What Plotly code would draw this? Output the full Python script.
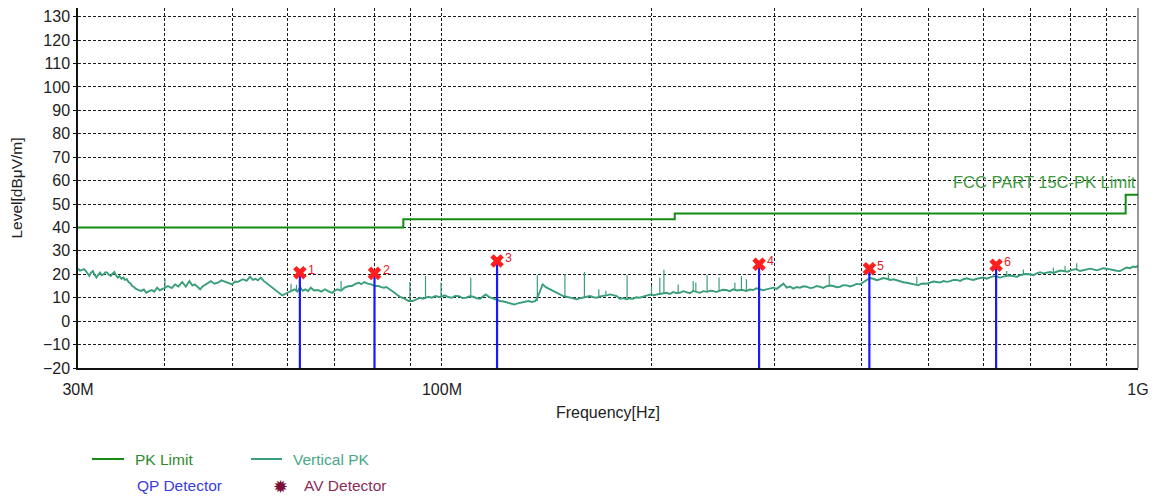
import numpy as np
import plotly.graph_objects as go

# ---------------- data ----------------
limit_freq = [30, 88, 216, 960, 1000]          # MHz
limit_level = [40, 43.5, 46, 54, 54]           # dBuV/m

vertical_pk = [
(30.0,22.4),(30.2,21.6),(30.43,21.9),(30.6,22.2),(30.79,21.4),(31.0,20.2),(31.15,19.3),(31.3,20.6),(31.52,21.4),(31.7,19.8),
(31.89,18.6),(32.1,19.9),(32.27,20.7),(32.45,19.6),(32.65,20.0),(32.85,20.9),(33.04,20.7),(33.2,19.9),(33.43,19.3),(33.6,20.2),
(33.83,21.0),(34.0,19.7),(34.23,18.6),(34.4,19.2),(34.63,18.1),(34.85,18.6),(35.05,17.6),(35.25,17.9),(35.46,16.7),(35.7,16.1),
(35.88,15.0),(36.1,14.6),(36.31,13.9),(36.6,13.4),(36.96,12.9),(37.3,13.5),(37.62,12.1),(37.95,12.8),(38.29,13.3),(38.6,12.6),
(38.98,14.3),(39.3,13.2),(39.68,13.6),(40.0,14.2),(40.39,15.0),(40.9,14.1),(41.36,15.7),(41.8,14.8),(42.35,16.7),(42.86,14.7),
(43.37,17.1),(43.8,15.2),(44.15,15.7),(44.5,14.6),(44.94,13.6),(45.3,14.8),(45.74,15.7),(46.1,16.3),(46.56,17.1),(47.1,16.0),
(47.67,16.4),(48.2,17.4),(48.8,16.7),(49.4,16.2),(49.97,15.7),(50.4,16.9),(50.86,16.7),(51.3,17.3),(51.78,17.9),(52.4,17.2),
(53.01,19.0),(53.5,17.6),(53.96,18.1),(54.4,17.4),(54.93,18.6),(55.4,17.3),(55.91,16.4),(56.4,15.4),(56.9,14.3),(57.4,13.8),
(57.92,12.9),(58.4,12.0),(58.96,11.0),(59.5,11.6),(60.0,12.1),(60.7,12.8),(61.43,13.6),(62.0,12.6),(62.55,14.5),(63.1,13.0),
(63.67,13.6),(64.2,12.8),(64.8,14.3),(65.5,13.1),(66.35,13.3),(67.1,12.6),(67.93,13.6),(68.7,12.7),(69.54,12.1),(70.1,13.0),
(70.78,13.6),(71.6,13.0),(72.47,14.3),(73.3,14.9),(74.2,15.0),(75.1,15.9),(75.97,16.4),(76.6,15.8),(77.32,16.7),(78.2,16.0),
(79.17,15.7),(80.1,15.0),(81.06,15.0),(81.8,14.5),(82.5,14.3),(83.2,14.6),(83.98,13.6),(84.7,12.8),(85.48,12.1),(86.2,11.3),
(87.0,10.4),(87.8,10.0),(88.58,9.3),(89.6,8.6),(90.7,8.6),(91.5,9.1),(92.3,9.3),(93.1,10.0),(93.97,9.6),(94.8,9.9),
(95.6,10.4),(96.7,10.0),(97.9,10.7),(99.3,10.2),(100.9,11.0),(102.1,10.3),(103.3,10.0),(104.5,10.8),(105.8,10.7),(107.0,9.9),
(108.3,10.0),(109.6,10.6),(110.9,10.4),(112.2,9.8),(113.5,9.6),(114.5,10.5),(115.6,11.4),(117.0,10.2),(118.4,9.6),(119.8,9.2),
(121.2,8.6),(122.6,8.4),(124.0,7.9),(125.5,7.5),(127.0,7.1),(128.5,7.6),(130.0,7.9),(131.5,8.4),(133.1,8.6),(134.7,8.2),
(136.3,8.6),(137.8,11.5),(139.5,15.7),(141.0,14.5),(142.8,13.6),(144.5,12.8),(146.2,12.1),(147.8,11.2),(149.4,10.7),(151.1,10.4),
(152.8,10.0),(154.5,9.6),(156.2,9.3),(157.9,9.8),(159.6,10.0),(161.4,10.4),(163.2,10.7),(165.0,10.2),(166.9,10.0),(168.7,10.6),
(170.6,10.7),(172.5,11.0),(174.4,11.4),(176.3,10.9),(178.3,10.7),(180.1,9.6),(182.3,9.8),(184.1,9.3),(186.1,9.7),(188.1,9.6),
(190.2,10.2),(192.3,10.0),(194.4,10.5),(196.6,10.7),(198.3,11.2),(200.0,11.4),(201.7,11.0),(203.4,11.4),(206.8,11.8),(210.2,12.1),
(212.5,11.6),(214.9,12.4),(217.3,12.0),(219.7,12.1),(222.1,12.8),(224.6,12.4),(227.1,11.9),(229.6,12.9),(232.1,12.4),(234.7,12.1),
(237.5,12.8),(240.4,12.5),(242.8,13.0),(245.2,12.9),(247.6,12.4),(250.1,13.0),(253.2,13.4),(256.3,13.3),(259.1,12.8),(262.0,13.6),
(265.6,13.1),(269.3,13.4),(273.8,12.9),(276.8,13.5),(279.9,13.3),(283.0,14.0),(286.2,13.6),(289.4,13.2),(292.6,13.6),(296.0,14.1),
(299.4,14.3),(302.7,13.8),(306.0,14.7),(309.4,16.0),(312.9,14.3),(316.3,14.8),(319.7,13.9),(323.3,14.6),(326.9,14.3),(330.5,14.9),
(334.2,14.7),(337.9,14.1),(341.6,14.3),(345.4,15.0),(349.2,14.7),(353.0,14.2),(357.0,14.9),(361.0,15.2),(365.0,15.0),(369.0,14.5),
(373.1,14.7),(377.3,15.4),(381.5,15.3),(385.7,14.8),(390.0,15.3),(394.3,15.9),(398.7,15.7),(403.1,16.5),(407.6,17.6),(412.0,18.4),
(416.6,18.1),(421.2,17.5),(425.9,17.9),(430.7,18.4),(435.6,18.1),(440.4,17.6),(445.3,17.9),(450.3,17.4),(455.3,17.1),(460.3,16.6),
(465.4,16.4),(470.6,16.0),(475.8,15.7),(479.7,15.3),(483.6,15.3),(487.6,15.9),(491.7,16.1),(497.2,16.0),(502.7,16.4),(508.3,16.9),
(513.9,16.7),(519.6,16.5),(525.4,17.1),(531.2,16.8),(537.1,17.1),(543.1,17.6),(549.1,17.6),(555.2,17.2),(561.3,17.9),(567.5,18.3),
(573.8,17.9),(580.2,17.6),(586.6,18.1),(593.1,18.5),(599.7,18.6),(606.3,18.1),(613.0,18.6),(619.8,19.2),(626.7,19.0),(633.6,18.6),
(640.6,19.0),(651.3,19.5),(662.2,19.3),(669.5,18.9),(676.9,19.6),(688.2,20.1),(699.7,20.0),(707.4,19.6),(715.3,20.4),(723.2,20.9),
(731.2,20.4),(739.4,20.8),(747.6,21.0),(755.8,20.6),(764.2,21.0),(772.7,21.6),(781.3,21.4),(792.2,21.1),(803.2,21.9),(814.4,22.2),
(825.7,21.4),(834.9,21.8),(844.1,21.9),(853.2,22.4),(862.4,22.1),(872.0,21.7),(881.7,22.1),(891.5,22.6),(901.4,22.4),(911.4,22.0),
(921.5,21.9),(931.7,21.5),(941.9,21.4),(952.4,22.3),(963.0,22.9),(973.8,22.6),(984.7,23.3),(992.0,23.0),(1000.0,23.6)]

# narrow spikes on the PK trace: (frequency MHz, base level, peak level)
pk_spikes = [
(40.0,14.0,18.1),(60.7,12.6,16.0),(61.8,12.8,15.5),(71.63,13.3,17.1),(89.94,9.0,16.7),(94.7,9.8,19.3),(99.7,10.4,16.4),
(110.0,10.2,18.6),(137.1,8.6,19.6),(150.2,10.5,20.0),(160.2,10.0,21.0),(168.0,10.4,13.6),(172.0,10.8,13.0),(184.5,9.3,19.6),
(200.0,11.4,15.0),(205.6,11.5,18.6),(208.4,12.0,21.9),(218.5,12.1,15.7),(229.6,12.6,17.1),(231.6,12.5,16.5),(240.4,12.5,19.6),
(250.1,13.0,18.6),(263.5,13.4,16.4),(269.3,13.2,19.3),(273.8,13.0,17.9),(360.1,14.9,19.6),(438.0,18.0,20.7),(481.1,15.4,19.0),
(647.7,19.2,21.4),(684.4,19.8,22.1),(755.8,20.8,22.9),(785.6,21.3,23.6),(816.6,21.9,24.7)]

marker_freq = [62.5, 80.0, 120.0, 285.5, 411.2, 625.4]
marker_level = [20.7, 20.4, 25.7, 24.3, 22.4, 23.9]
marker_label = ["1", "2", "3", "4", "5", "6"]
qp_level = [20.7, 20.4, 25.7, 24.3, 22.4, 23.9]

y_min, y_max = -20, 133.7
x_min, x_max = 30, 1000
x_tick_vals = [30, 100, 1000]
x_tick_text = ["30M", "100M", "1G"]
x_minor_vals = [40, 50, 60, 70, 80, 90, 200, 300, 400, 500, 600, 700, 800, 900]

# ---------------- colours ----------------
C_LIMIT = "#138c13"
C_PK = "#3a9f78"
C_MARK = "#ff1f1f"
C_QP = "#1a1aff"
C_GRID = "#1a1a1a"
FONT = "Liberation Sans, Arial, sans-serif"

fig = go.Figure()

pk_f = [p[0] for p in vertical_pk]
pk_l = [p[1] for p in vertical_pk]
fig.add_trace(go.Scatter(x=pk_f, y=pk_l, mode="lines",
                         line=dict(color=C_PK, width=1.9), showlegend=False, name="Vertical PK"))

sx, sy = [], []
for f, b, p in pk_spikes:
    sx += [f, f, None]
    sy += [b, p, None]
fig.add_trace(go.Scatter(x=sx, y=sy, mode="lines", line=dict(color=C_PK, width=1.2),
                         showlegend=False, hoverinfo="skip"))

fig.add_trace(go.Scatter(x=limit_freq, y=limit_level, mode="lines",
                         line=dict(color=C_LIMIT, width=2, shape="hv"), showlegend=False, name="PK Limit"))

qx, qy = [], []
for f, l in zip(marker_freq, qp_level):
    qx += [f, f, None]
    qy += [l, y_min, None]
fig.add_trace(go.Scatter(x=qx, y=qy, mode="lines", line=dict(color=C_QP, width=2.2),
                         showlegend=False, name="QP Detector"))

fig.add_trace(go.Scatter(x=marker_freq, y=marker_level, mode="markers",
                         marker=dict(symbol="x", size=12, color=C_MARK, line=dict(width=0)),
                         showlegend=False))

annotations = []
for f, l, t in zip(marker_freq, marker_level, marker_label):
    annotations.append(dict(x=np.log10(f), y=l, xref="x", yref="y", text=t, showarrow=False,
                            xanchor="left", yanchor="middle", xshift=6, yshift=3,
                            font=dict(family=FONT, size=12.5, color="#e8202a")))

annotations.append(dict(x=1.0, y=59.3, xref="paper", yref="y", text="FCC PART 15C-PK Limit",
                        showarrow=False, xanchor="right", yanchor="middle",
                        font=dict(family=FONT, size=16.5, color="#3f9a3f")))

# ---- manual legend (page coords; plot area 78..1138 x, 8..368 y) ----
def px(xp):
    return (xp - 78) / 1060.0

def py(yp):
    return (368 - yp) / 360.0

shapes = [
    dict(type="line", xref="paper", yref="paper", x0=px(92), x1=px(124), y0=py(459), y1=py(459),
         line=dict(color=C_LIMIT, width=2)),
    dict(type="line", xref="paper", yref="paper", x0=px(251), x1=px(282), y0=py(459), y1=py(459),
         line=dict(color=C_PK, width=2)),
    dict(type="line", xref="paper", yref="paper", x0=1, x1=1, y0=0, y1=1,
         line=dict(color="#333333", width=1)),
]
legend_items = [
    ("PK Limit", 133, 459, "#2f8a2f"),
    ("Vertical PK", 291, 459, "#47a98a"),
    ("QP Detector", 135, 485, "#3b3be0"),
    ("AV Detector", 302, 485, "#8a2d58"),
]
for txt, x0, y0, col in legend_items:
    annotations.append(dict(x=px(x0), y=py(y0), xref="paper", yref="paper", text=txt, showarrow=False,
                            xanchor="left", yanchor="middle", font=dict(family=FONT, size=15.5, color=col)))
annotations.append(dict(x=px(280), y=py(486), xref="paper", yref="paper", text="✹", showarrow=False,
                        xanchor="center", yanchor="middle",
                        font=dict(family="DejaVu Sans", size=18, color="#7a0f3c")))

grid = dict(gridcolor=C_GRID, gridwidth=1, griddash="3px,2px")

fig.update_layout(
    width=1153, height=490,
    margin=dict(l=70, r=23, t=0, b=130),
    paper_bgcolor="white", plot_bgcolor="white",
    font=dict(family=FONT, size=16, color="#222222"),
    showlegend=False,
    shapes=shapes,
    annotations=annotations,
    xaxis=dict(type="log", range=[np.log10(x_min), np.log10(x_max)],
               tickvals=x_tick_vals, ticktext=x_tick_text,
               ticks="outside", ticklen=6, tickcolor="rgba(0,0,0,0)",
               tickfont=dict(size=16, color="#222222"),
               showgrid=True, **grid,
               minor=dict(tickvals=x_minor_vals, showgrid=True, gridcolor=C_GRID, gridwidth=1,
                          griddash="3px,2px", ticks=""),
               showline=True, linecolor="#111111", linewidth=1.5, zeroline=False,
               title=dict(text="Frequency[Hz]", font=dict(size=16, color="#222222"), standoff=10)),
    yaxis=dict(range=[y_min, y_max], tick0=0, dtick=10,
               ticks="outside", ticklen=3, tickcolor="#111111",
               tickfont=dict(size=16, color="#222222"),
               showgrid=True, **grid,
               showline=True, linecolor="#111111", linewidth=1.5, zeroline=False,
               title=dict(text="Level[dBμV/m]", font=dict(size=15.5, color="#222222"), standoff=16)),
)

fig.write_html("out.html")
